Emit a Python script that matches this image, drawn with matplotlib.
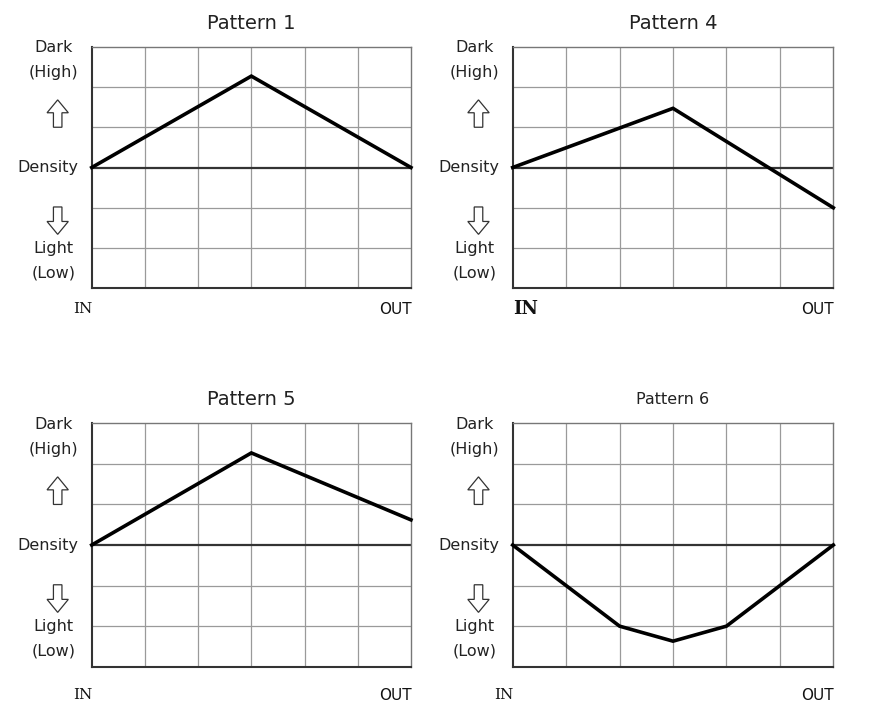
import matplotlib.pyplot as plt
from matplotlib.patches import FancyArrow

# density curves: x = grid column (IN=0 ... OUT=6), y = density level (-3 .. 3)
pos = [0, 1, 2, 3, 4, 5, 6]
titles = ['Pattern 1', 'Pattern 4', 'Pattern 5', 'Pattern 6']
x_p1 = [0, 3, 6]
y_p1 = [0, 2.27, 0]
x_p4 = [0, 3, 6]
y_p4 = [0, 1.47, -1.0]
x_p5 = [0, 3, 6]
y_p5 = [0, 2.27, 0.62]
x_p6 = [0, 2, 3, 4, 6]
y_p6 = [0, -2.0, -2.37, -2.0, 0]

fig = plt.figure(figsize=(8.77, 7.08), dpi=100)
rects = [[0.1046, 0.5928, 0.364, 0.3412],
         [0.5846, 0.5928, 0.3656, 0.3412],
         [0.1046, 0.0583, 0.364, 0.3438],
         [0.5846, 0.0583, 0.3656, 0.3438]]
curves = [(x_p1, y_p1), (x_p4, y_p4), (x_p5, y_p5), (x_p6, y_p6)]

for i, (r, (xs, ys)) in enumerate(zip(rects, curves)):
    ax = fig.add_axes(r)
    ax.set_xlim(0, 6)
    ax.set_ylim(-3, 3)
    for v in pos[1:-1]:
        ax.axvline(v, color='#9a9a9a', lw=0.9, zorder=1)
    for v in [-2, -1, 1, 2]:
        ax.axhline(v, color='#9a9a9a', lw=0.9, zorder=1)
    ax.axhline(0, color='#333333', lw=1.6, zorder=2)
    ax.plot(xs, ys, color='black', lw=2.6, zorder=3, solid_joinstyle='miter', clip_on=False)
    ax.set_xticks([])
    ax.set_yticks([])
    for s in ['top', 'right']:
        ax.spines[s].set_color('#777777')
        ax.spines[s].set_linewidth(1.0)
    for s in ['left', 'bottom']:
        ax.spines[s].set_color('#333333')
        ax.spines[s].set_linewidth(1.5)

    tsize = 11.5 if i == 3 else 14
    ax.text(3, 3.58, titles[i], ha='center', va='center', fontsize=tsize, color='#222222')

    lx = -0.72
    kw = dict(ha='center', va='center', fontsize=11.5, color='#222222', clip_on=False)
    ax.text(lx, 2.97, 'Dark', **kw)
    ax.text(lx, 2.35, '(High)', **kw)
    ax.text(lx - 0.1, 0.0, 'Density', **kw)
    ax.text(lx, -2.0, 'Light', **kw)
    ax.text(lx, -2.62, '(Low)', **kw)
    ax.add_patch(FancyArrow(lx + 0.08, 1.0, 0, 0.68, width=0.16, head_width=0.4,
                            head_length=0.32, length_includes_head=True,
                            fc='white', ec='#333333', lw=0.9, clip_on=False))
    ax.add_patch(FancyArrow(lx + 0.08, -0.98, 0, -0.68, width=0.16, head_width=0.4,
                            head_length=0.32, length_includes_head=True,
                            fc='white', ec='#333333', lw=0.9, clip_on=False))

    yb = -3.52 if i < 2 else -3.7
    if i == 1:
        ax.text(0.25, yb, 'IN', ha='center', va='center', fontsize=13,
                fontweight='bold', color='#111111', family='DejaVu Serif')
    else:
        ax.text(-0.17, yb, 'IN', ha='center', va='center', fontsize=11,
                color='#111111', family='DejaVu Serif')
    ax.text(5.7, yb, 'OUT', ha='center', va='center', fontsize=11, color='#111111')

fig.savefig('out.png', dpi=100)
